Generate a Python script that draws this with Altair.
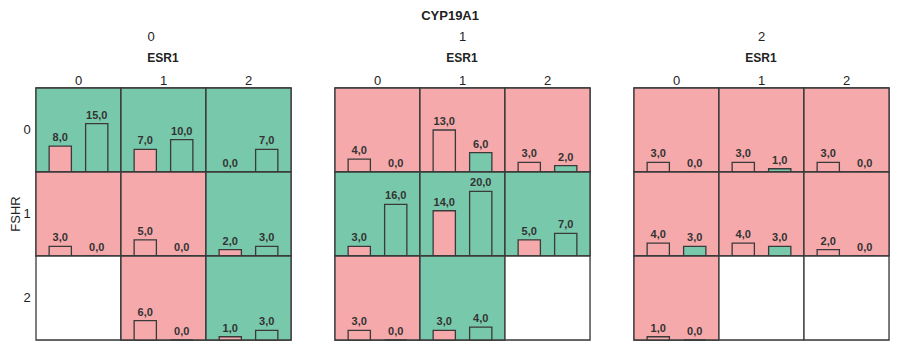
import altair as alt
import pandas as pd

# ---- data ----
cyp_levels = ["0", "1", "2"]
fshr_levels = ["0", "1", "2"]
esr_levels = ["0", "1", "2"]

# values per cell, ordered by FSHR row then ESR1 column; None = empty cell
first_vals = {
    "0": [8, 7, 0, 3, 5, 2, None, 6, 1],
    "1": [4, 13, 3, 3, 14, 5, 3, 3, None],
    "2": [3, 3, 3, 4, 4, 2, 1, None, None],
}
second_vals = {
    "0": [15, 10, 7, 0, 0, 3, None, 0, 3],
    "1": [0, 6, 2, 16, 20, 7, 0, 4, None],
    "2": [0, 1, 0, 3, 3, 0, 0, None, None],
}

PINK = "#F6A9AB"
GREEN = "#78C8AB"
BORDER = "#3a3a3a"
FONT = "Liberation Sans"

CELL_W = 85
CELL_H = 84

rows = []
for c in cyp_levels:
    for i, (a, b) in enumerate(zip(first_vals[c], second_vals[c])):
        f = fshr_levels[i // 3]
        e = esr_levels[i % 3]
        if a is None:
            rows.append(dict(CYP19A1=c, FSHR=f, ESR1=e, bar="A", value=None, major="none"))
            continue
        major = "B" if b > a else "A"
        rows.append(dict(CYP19A1=c, FSHR=f, ESR1=e, bar="A", value=a, major=major))
        rows.append(dict(CYP19A1=c, FSHR=f, ESR1=e, bar="B", value=b, major=major))
df = pd.DataFrame(rows)

color_scale = alt.Scale(domain=["A", "B", "none"], range=[PINK, GREEN, "#FFFFFF"])


def panel(c, first):
    d = df[df.CYP19A1 == c]
    base = alt.Chart(d)
    bg = base.mark_rect(stroke=BORDER, strokeWidth=1.3).encode(
        x=alt.value(0), x2=alt.value(CELL_W),
        y=alt.value(0), y2=alt.value(CELL_H),
        fill=alt.Fill("major:N", scale=color_scale, legend=None),
    )
    xenc = alt.X("bar:N", scale=alt.Scale(domain=["A", "B"], paddingInner=0.39, paddingOuter=0.36), axis=None)
    yenc = alt.Y("value:Q", scale=alt.Scale(domain=[0, 26]), axis=None)
    bars = base.transform_filter("isValid(datum.value)").mark_bar(
        stroke=BORDER, strokeWidth=1.3
    ).encode(
        x=xenc, y=yenc,
        fill=alt.Fill("bar:N", scale=color_scale, legend=None),
    )
    text = base.transform_filter("isValid(datum.value)").transform_calculate(
        lab="replace(format(datum.value, '.1f'), '.', ',')"
    ).mark_text(
        baseline="bottom", dy=-3, fontSize=11, fontWeight="bold", font=FONT, color="#333333"
    ).encode(x=xenc, y=yenc, text="lab:N")

    layered = alt.layer(bg, bars, text).properties(width=CELL_W, height=CELL_H)
    if first:
        row_header = alt.Header(title="FSHR", labelAngle=0, labelAlign="right", labelFontSize=13,
                                labelFont=FONT, titleFont=FONT, titleFontSize=13,
                                titleFontWeight="normal", labelPadding=-2, titlePadding=-10,
                                labelColor="#222", titleColor="#222")
    else:
        row_header = alt.Header(title=None, labels=False)
    col_header = alt.Header(title="ESR1", labelFontSize=13, labelFont=FONT, titleFont=FONT,
                            titleFontSize=12, titleFontWeight="bold", labelPadding=0,
                            titlePadding=0, labelColor="#222", titleColor="#222")
    return layered.facet(
        row=alt.Row("FSHR:N", header=row_header, sort=fshr_levels),
        column=alt.Column("ESR1:N", header=col_header, sort=esr_levels),
        spacing={"row": 0, "column": 0},
        bounds="flush",
        title=alt.TitleParams(c, fontSize=13, fontWeight="normal", font=FONT, color="#222",
                              anchor="middle", offset=8),
    )


chart = alt.hconcat(
    panel("0", True), panel("1", False), panel("2", False), spacing=40
).properties(
    title=alt.TitleParams("CYP19A1", fontSize=13, fontWeight="bold", font=FONT, color="#222",
                          anchor="middle", offset=8),
    padding={"left": 1, "top": 2, "right": 0, "bottom": 2},
).configure_view(stroke=BORDER, strokeWidth=1.3).configure(background="white")

chart.save("out.html", embed_options={"renderer": "svg", "actions": False})
